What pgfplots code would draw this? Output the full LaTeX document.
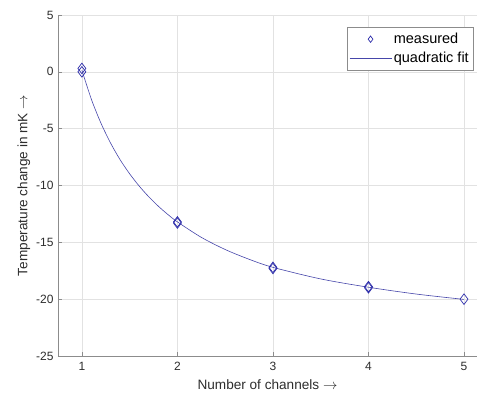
\documentclass[border=0pt]{standalone}
\usepackage{pgfplots}
\pgfplotsset{compat=1.18}
\usepackage{fontspec}
\setmainfont{Liberation Sans}
\definecolor{mk}{RGB}{45,45,170}
\definecolor{ln}{RGB}{70,70,170}
\definecolor{gridc}{RGB}{226,226,226}
\definecolor{axc}{RGB}{140,140,140}
\definecolor{txt}{RGB}{45,45,45}
\begin{document}
\begin{tikzpicture}
\begin{axis}[
  scale only axis,
  width=419pt, height=341pt,
  xmin=0.75, xmax=5.136,
  ymin=-25, ymax=5,
  xtick={1,2,3,4,5},
  ytick={-25,-20,-15,-10,-5,0,5},
  axis lines=left,
  axis line style={color=axc, line width=0.6pt, -},
  tick style={color=axc, line width=0.6pt},
  tick align=inside,
  major tick length=4pt,
  grid=major,
  major grid style={color=gridc, line width=0.6pt},
  every tick label/.append style={font=\fontsize{12}{14}\selectfont, text=txt},
  xticklabel style={yshift=-3pt},
  yticklabel style={xshift=-1pt},
  /pgf/number format/assume math mode=true,
  xlabel={Number of channels $\rightarrow$},
  ylabel={Temperature change in mK $\rightarrow$},
  label style={font=\fontsize{13.6}{15}\selectfont, text=txt},
  xlabel style={yshift=-2pt},
  ylabel style={yshift=-1pt},
  legend style={at={(1,1)}, anchor=north east, xshift=-4pt, yshift=-12pt,
    font=\fontsize{14.5}{17}\selectfont, draw=axc, fill=white,
    inner xsep=2pt, inner ysep=4pt, row sep=3pt, cells={anchor=west}},
  legend cell align=left,
  legend image code/.code={\draw[mark repeat=2,mark phase=2, every mark/.append style={scale=0.6}] plot coordinates {(0pt,0pt)(21pt,0pt)(42pt,0pt)};},
  clip=false,
]
\addplot[only marks, mark=diamond, mark size=5.3pt, mark options={draw=mk, fill=none, line width=0.7pt}]
  coordinates {(1,0.3) (1,0.0) (2,-13.2) (2,-13.3) (3,-17.2) (3,-17.3) (4,-18.9) (4,-19.0) (5,-20.0)};
\addlegendentry{measured}
\addplot[color=ln, line width=0.6pt, smooth, no marks]
  coordinates {(1,0.15) (1.1,-2.43) (1.2,-4.52) (1.3,-6.26) (1.4,-7.73) (1.5,-8.97) (1.6,-10.05) (1.7,-10.99) (1.8,-11.82) (1.9,-12.55) (2,-13.2) (2.25,-14.56) (2.5,-15.63) (2.75,-16.49) (3,-17.2) (3.5,-18.22) (4,-18.95) (4.5,-19.55) (5,-20.02)};
\addlegendentry{quadratic fit}
\end{axis}
\pgfresetboundingbox
\path (current axis.south west) ++(-58pt,-43pt) coordinate (bbl);
\path (current axis.north east) ++(0pt,15pt) coordinate (btr);
\useasboundingbox (bbl) rectangle (btr);
\end{tikzpicture}
\end{document}
